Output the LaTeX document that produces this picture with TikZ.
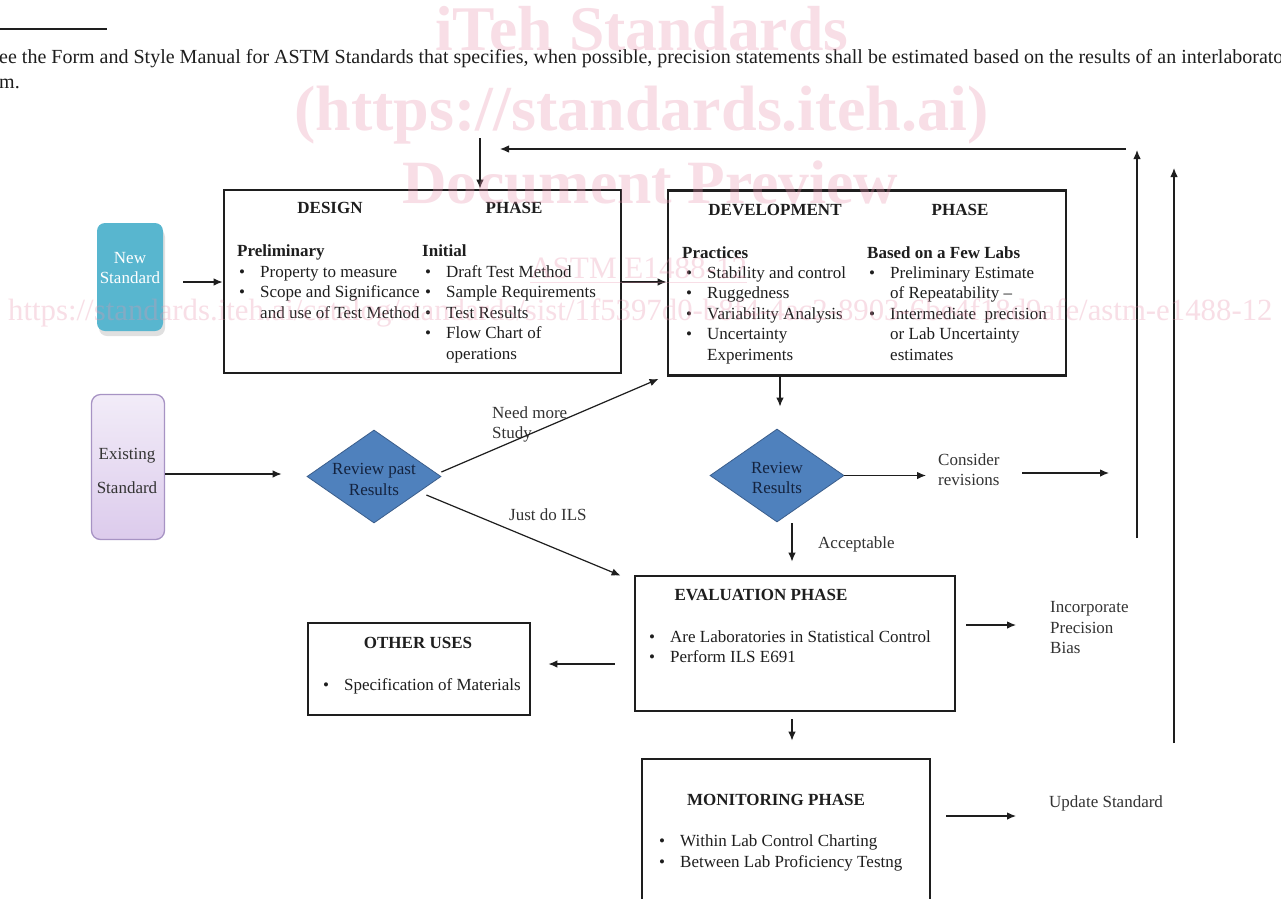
\documentclass[tikz,border=0pt]{standalone}
\usepackage{fontspec}
\setmainfont{Liberation Serif}
\usepackage{graphicx}
\usetikzlibrary{arrows.meta,calc,shapes.geometric}
\definecolor{ink}{HTML}{1E1E1E}
\definecolor{tealbox}{HTML}{58B6CF}
\definecolor{lavtop}{HTML}{F2ECF8}
\definecolor{lavbot}{HTML}{DCCBEC}
\definecolor{lavedge}{HTML}{A793C4}
\definecolor{diafill}{HTML}{4F81BD}
\definecolor{diaedge}{HTML}{3B5E8C}
\definecolor{diatext}{HTML}{14233F}
\definecolor{wmpink}{HTML}{E893AD}
\definecolor{softink}{HTML}{333333}
\newcommand\mybul{\makebox[21pt][l]{\textbullet}}
\newcommand\mytl[5][]{\node[txt,anchor=base west,#1] (#2) at (#3,#4) {#5};}
\newcommand\mytc[5][]{\node[txt,anchor=base,#1] (#2) at (#3,#4) {#5};}
\begin{document}
\begin{tikzpicture}[x=1pt,y=-1pt,
  txt/.style={inner sep=0pt,text=ink,font=\fontsize{17}{20}\selectfont},
  phasebox/.style={draw=ink,line width=2.8pt,inner sep=0pt},
  decision/.style={diamond,draw=diaedge,line width=0.8pt,fill=diafill,inner sep=0pt,minimum width=134pt,minimum height=93pt},
  arr/.style={draw=ink,line width=1.2pt,-{Latex[length=9pt,width=7.5pt]}},
  wm/.style={inner sep=0pt,text=wmpink,text opacity=0.3,anchor=base west},
]
\useasboundingbox (0,0) rectangle (1281,898);
\clip (0,0) rectangle (1281,898);
\fill[white] (0,0) rectangle (1281,898);

% header text
\draw[ink,line width=1.2pt] (0,29) -- (107,29);
\mytl[font=\fontsize{20}{24}\selectfont]{para1}{-1}{63}{ee the Form and Style Manual for ASTM Standards that specifies, when possible, precision statements shall be estimated based on the results of an interlaborato}
\mytl[font=\fontsize{20}{24}\selectfont]{para2}{-1}{88}{m.}

% start shapes
\fill[black!12,rounded corners=8pt] (99,229) rectangle (165,336);
\node[rounded corners=8pt,fill=tealbox,minimum width=66pt,minimum height=108pt,inner sep=0pt] (newstd) at (130,277) {};
\mytc[text=white]{ns1}{130}{263}{New}
\mytc[text=white]{ns2}{130}{283}{Standard}

\node[rounded corners=9pt,draw=lavedge,line width=1.3pt,top color=lavtop,bottom color=lavbot,minimum width=73pt,minimum height=145pt,inner sep=0pt] (exstd) at (128,467) {};
\mytc[text=softink]{es1}{127}{459}{Existing}
\mytc[text=softink]{es2}{127}{493}{Standard}

% phase boxes
\node[phasebox,minimum width=397pt,minimum height=183pt] (design) at (422.5,281.5) {};
\node[phasebox,minimum width=398pt,minimum height=185pt] (dev) at (867,283) {};
\node[phasebox,minimum width=320pt,minimum height=135pt] (eval) at (795,643.5) {};
\node[phasebox,minimum width=222pt,minimum height=92pt] (other) at (419,669) {};
\node[phasebox,minimum width=288pt,minimum height=170pt] (mon) at (786,844) {};

% design text
\mytc[font=\fontsize{17}{20}\selectfont\bfseries]{dT1}{330}{213}{DESIGN}
\mytc[font=\fontsize{17}{20}\selectfont\bfseries]{dT2}{514}{213}{PHASE}
\mytl[font=\fontsize{17}{20}\selectfont\bfseries]{dP}{237}{256}{Preliminary}
\mytl{dP1}{239}{277}{\mybul Property to measure}
\mytl{dP2}{239}{297.5}{\mybul Scope and Significance}
\mytl{dP3}{260}{318}{and use of Test Method}
\mytl[font=\fontsize{17}{20}\selectfont\bfseries]{dI}{422}{256}{Initial}
\mytl{dI1}{425}{277}{\mybul Draft Test Method}
\mytl{dI2}{425}{297.5}{\mybul Sample Requirements}
\mytl{dI3}{425}{318}{\mybul Test Results}
\mytl{dI4}{425}{338.5}{\mybul Flow Chart of}
\mytl{dI5}{446}{359}{operations}

% development text
\mytc[font=\fontsize{17}{20}\selectfont\bfseries]{vT1}{775}{215}{DEVELOPMENT}
\mytc[font=\fontsize{17}{20}\selectfont\bfseries]{vT2}{960}{215}{PHASE}
\mytl[font=\fontsize{17}{20}\selectfont\bfseries]{vP}{682}{258}{Practices}
\mytl{vP1}{686}{278}{\mybul Stability and control}
\mytl{vP2}{686}{298.5}{\mybul Ruggedness}
\mytl{vP3}{686}{319}{\mybul Variability Analysis}
\mytl{vP4}{686}{339.5}{\mybul Uncertainty}
\mytl{vP5}{707}{360}{Experiments}
\mytl[font=\fontsize{17}{20}\selectfont\bfseries]{vB}{867}{258}{Based on a Few Labs}
\mytl{vB1}{869}{278}{\mybul Preliminary Estimate}
\mytl{vB2}{890}{298.5}{of Repeatability –}
\mytl{vB3}{869}{319}{\mybul Intermediate\ \ precision}
\mytl{vB4}{890}{339.5}{or Lab Uncertainty}
\mytl{vB5}{890}{360}{estimates}

% evaluation, other uses, monitoring
\mytc[font=\fontsize{17}{20}\selectfont\bfseries]{eT}{761}{600}{EVALUATION PHASE}
\mytl{e1}{649}{642}{\mybul Are Laboratories in Statistical Control}
\mytl{e2}{649}{662}{\mybul Perform ILS E691}
\mytc[font=\fontsize{17}{20}\selectfont\bfseries]{oT}{418}{648}{OTHER USES}
\mytl{o1}{323}{690}{\mybul Specification of Materials}
\mytc[font=\fontsize{17}{20}\selectfont\bfseries]{mT}{776}{805}{MONITORING PHASE}
\mytl{m1}{659}{846}{\mybul Within Lab Control Charting}
\mytl{m2}{659}{867}{\mybul Between Lab Proficiency Testng}

% decisions
\node[decision] (rpr) at (374,476.5) {};
\mytc[text=diatext]{rprt1}{374}{474}{Review past}
\mytc[text=diatext]{rprt2}{374}{495}{Results}
\node[decision] (rr) at (777,475.5) {};
\mytc[text=diatext]{rrt1}{777}{473}{Review}
\mytc[text=diatext]{rrt2}{777}{493}{Results}

% free labels
\mytl[text=softink]{nm1}{492}{418}{Need more}
\mytl[text=softink]{nm2}{492}{438}{Study}
\mytl[text=softink]{jd}{509}{520}{Just do ILS}
\mytl[text=softink]{cons1}{938}{465}{Consider}
\mytl[text=softink]{cons2}{938}{485}{revisions}
\mytl[text=softink]{acc}{818}{548}{Acceptable}
\mytl[text=softink]{inc1}{1050}{612}{Incorporate}
\mytl[text=softink]{inc2}{1050}{633}{Precision}
\mytl[text=softink]{inc3}{1050}{653}{Bias}
\mytl[text=softink]{upd}{1049}{807}{Update Standard}

% connectors
\coordinate (topin) at (480,138);
\draw[arr] (topin) -- (topin |- design.north);
\coordinate (fbA) at (1126,149);
\coordinate (fbB) at (500,149);
\draw[arr] (fbA) -- (fbB);
\coordinate (upAbot) at (1137,538);
\coordinate (upAtop) at (1137,150);
\draw[arr] (upAbot) -- (upAtop);
\coordinate (upBbot) at (1174,743);
\coordinate (upBtop) at (1174,168);
\draw[arr] (upBbot) -- (upBtop);

\draw[arr] ($(newstd.east)+(20,5)$) -- ($(design.west)+(0,0.5)$);
\draw[arr] ($(design.east)+(0,0.5)$) -- ($(dev.west)+(0,-1)$);
\draw[arr] ($(exstd.east)+(0,7)$) -- ($(rpr.west)+(-25,-2.5)$);
\draw[arr] ($(rpr.east)+(0,-4.5)$) -- ($(dev.south west)+(-8,2)$);
\draw[arr] ($(rpr.east)+(-15,18.5)$) -- ($(eval.north west)+(-13,1)$);
\draw[arr] ($(dev.south)+(-87,0)$) -- ($(rr.north)+(3,-22)$);
\draw[arr] (rr.east) -- ($(cons1.base west)+(-12,10.5)$);
\coordinate (revTip) at (1109,473);
\draw[arr] ($(cons1.base west)+(84,8)$) -- (revTip);
\draw[arr] ($(rr.south)+(15,1)$) -- ($(eval.north)+(-3,-13)$);
\draw[arr] ($(eval.west)+(-19,20.5)$) -- ($(other.east)+(17,-5)$);
\draw[arr] ($(eval.east)+(10,-18.5)$) -- ($(inc1.base west)+(-34,13)$);
\draw[arr] ($(eval.south)+(-3,7)$) -- ($(mon.north)+(6,-17)$);
\draw[arr] ($(mon.east)+(15,-28)$) -- ($(upd.base west)+(-33,9)$);

% watermark
\node[wm] (wm1) at (435,50) {\resizebox{413pt}{!}{\bfseries iTeh Standards}};
\node[wm] (wm2) at (294,130) {\resizebox{694pt}{!}{\bfseries (https://standards.iteh.ai)}};
\node[wm] (wm3) at (402,203) {\resizebox{496pt}{!}{\bfseries Document Preview}};
\node[wm] (wm4) at (530,278) {\resizebox{217pt}{!}{\underline{ASTM E1488-12}}};
\node[wm] (wm5) at (8,320) {\resizebox{1264pt}{!}{https://standards.iteh.ai/catalog/standards/sist/1f5397d0-b8f4-4ac2-8903-6be4f18d9afe/astm-e1488-12}};
\end{tikzpicture}
\end{document}
